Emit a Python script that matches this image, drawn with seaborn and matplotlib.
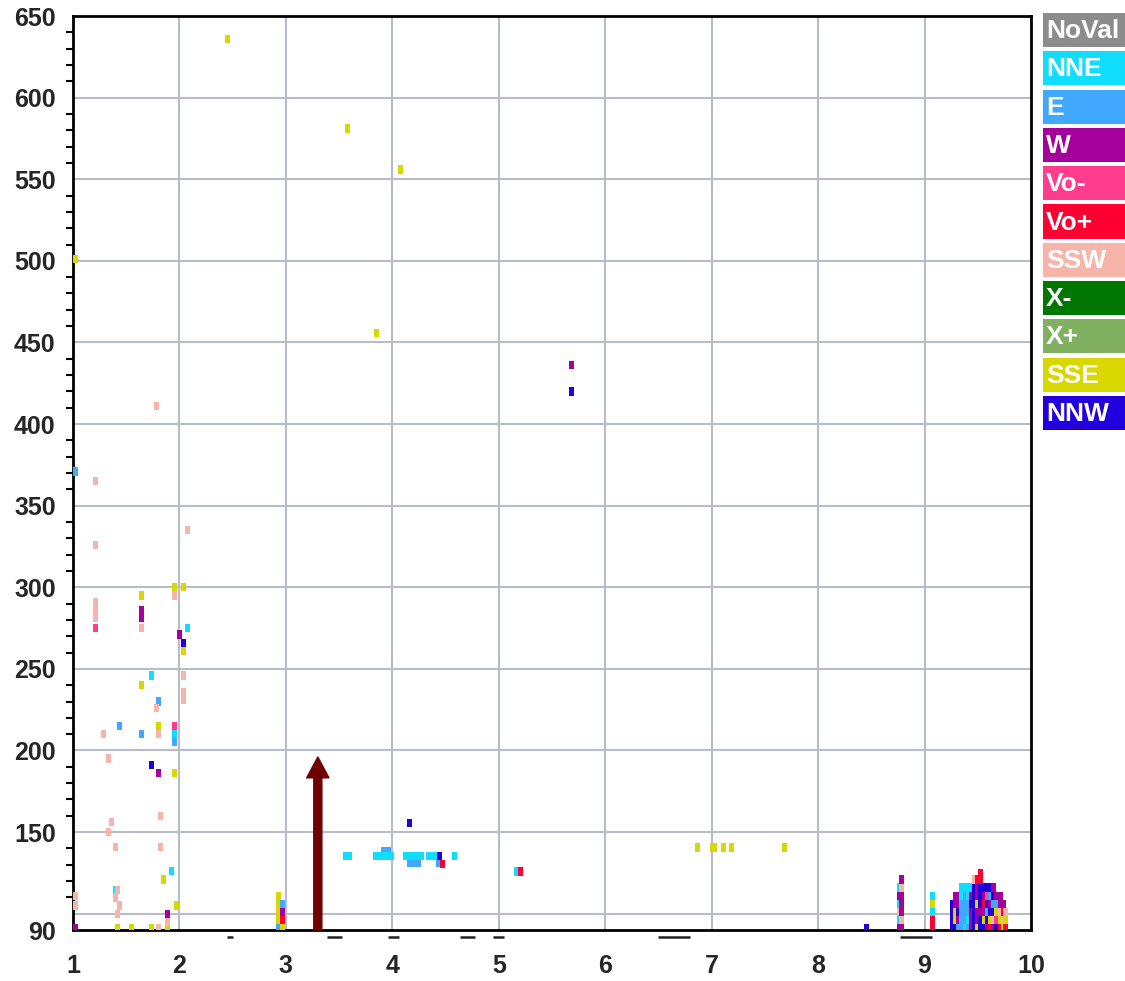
import numpy as np
import pandas as pd
import matplotlib
matplotlib.use("Agg")
import matplotlib.pyplot as plt
from matplotlib.patches import Rectangle
from matplotlib.ticker import FixedLocator, MultipleLocator
import seaborn as sns

# ---------------- data ----------------
categories = ["NoVal", "NNE", "E", "W", "Vo-", "Vo+", "SSW", "X-", "X+", "SSE", "NNW"]
cat_colors = ["#8c8c8c", "#11ddff", "#40a8ff", "#a6009c", "#ff3d8c", "#ff0033",
              "#f7b5aa", "#007700", "#80b060", "#d8d800", "#2200dd"]

# isolated marks, per category
E_x = [1.02, 1.80, 1.44, 1.645, 1.95, 3.92, 3.96, 4.16, 4.21, 4.25, 4.43]
E_y = [371, 230, 215, 210, 205.5, 138.5, 138.5, 131, 131, 131, 131]

NNE_x = [2.08, 1.74, 1.95, 1.93, 1.395, 3.56, 3.60, 3.84, 3.87, 3.90, 3.93, 3.96, 3.99,
         4.12, 4.15, 4.18, 4.21, 4.24, 4.27, 4.34, 4.37, 4.40, 4.58, 5.17]
NNE_y = [275, 246, 210, 126, 114.5, 135.4, 135.4, 135.4, 135.4, 135.4, 135.4, 135.4, 135.4,
         135.4, 135.4, 135.4, 135.4, 135.4, 135.4, 135.4, 135.4, 135.4, 135.4, 125.8]

SSE_x = [2.45, 3.58, 4.08, 1.02, 3.85, 1.95, 2.04, 1.645, 2.04, 1.645, 1.80, 1.95,
         1.85, 1.97, 1.42, 1.55, 1.74, 1.89, 6.87, 7.01, 7.03, 7.11, 7.19, 7.68]
SSE_y = [636, 581, 556, 501, 455.6, 300, 300, 295, 261, 240, 215, 186,
         121, 105, 91, 91, 91, 91, 140.5, 140.5, 140.5, 140.5, 140.5, 140.5]

SSW_x = [1.78, 1.21, 2.08, 1.21, 1.95, 1.21, 1.21, 1.21, 1.645, 2.04, 2.04, 2.04, 1.78,
         1.80, 1.29, 1.33, 1.82, 1.36, 1.33, 1.40, 1.82, 1.42, 1.40, 1.02, 1.02, 1.44,
         1.42, 1.89, 1.80]
SSW_y = [411, 365, 335, 326, 295, 291, 286, 281, 275, 246, 236, 231, 226,
         210, 210, 195, 160, 156, 150, 141, 141, 114.5, 110, 111, 105, 105,
         100, 95, 91]

W_x = [1.645, 1.645, 2.0, 1.80, 1.89, 1.02, 5.68]
W_y = [286, 281, 271, 186, 100, 91, 436]

Vo_minus_x = [1.21, 1.95]
Vo_minus_y = [275, 215]

Vo_plus_x = [4.47, 5.20, 9.525]
Vo_plus_y = [130.5, 125.8, 125]

NNW_x = [5.68, 2.04, 1.74, 4.16, 4.44, 8.45]
NNW_y = [420, 266, 191, 155.5, 135.4, 91]

# stacked columns (categories listed bottom -> top)
stack_levels = [91, 96, 101, 106, 111, 116, 121]
stack_x = [2.935, 2.965, 8.76, 8.785, 9.07,
           9.26, 9.29, 9.32, 9.35, 9.38, 9.41, 9.44, 9.47, 9.50, 9.53,
           9.56, 9.59, 9.62, 9.65, 9.68, 9.71, 9.74, 9.765]
stack_cats = [
    ["E", "SSE", "SSE", "SSE", "SSE"],
    ["SSE", "Vo+", "W", "E"],
    ["W", "NNE", "SSW", "NNE", "W", "NNE"],
    ["W", "SSW", "W", "W", "W", "SSW", "W"],
    ["Vo+", "Vo+", "NNE", "SSE", "NNE"],
    ["NNW", "NNW", "NNW", "NNW"],
    ["NNW", "SSE", "SSE", "W", "W"],
    ["E", "W", "NNW", "W", "W"],
    ["E", "E", "E", "E", "NNE", "NNE"],
    ["NNE", "E", "E", "E", "E", "NNE"],
    ["E", "NNE", "E", "E", "NNE", "NNE"],
    ["W", "W", "W", "NNW", "W", "NNE"],
    ["NNW", "NNW", "NNW", "NNW", "NNW", "NNW", "SSW"],
    ["SSE", "W", "W", "SSE", "W", "W", "Vo+"],
    ["NNW", "NNW", "W", "NNW", "NNW", "NNW", "Vo+"],
    ["NNW", "SSE", "W", "Vo+", "W", "NNW"],
    ["W", "NNW", "E", "NNW", "Vo-", "NNW"],
    ["Vo+", "SSE", "NNW", "W", "E", "NNW"],
    ["W", "SSW", "NNW", "E", "NNW", "W"],
    ["NNW", "Vo-", "SSE", "E", "W"],
    ["Vo+", "SSE", "SSW", "W", "W"],
    ["SSE", "SSW", "Vo+", "W"],
    ["Vo+", "SSE", "SSW"],
]

# short dark dashes just below the x axis
dash_x0 = [2.45, 3.39, 3.96, 4.64, 4.95, 6.50, 8.77]
dash_x1 = [2.50, 3.53, 4.06, 4.78, 5.05, 6.80, 9.07]
dash_y = 85.7

# arrow
arrow_x = 3.30
arrow_y0, arrow_y1 = 90, 196

# axes
x_ticks = [1, 2, 3, 4, 5, 6, 7, 8, 9, 10]
y_ticks = [90, 100, 150, 200, 250, 300, 350, 400, 450, 500, 550, 600, 650]
y_ticklabels = ["90", "", "150", "200", "250", "300", "350", "400", "450", "500", "550", "600", "650"]
x_grid = [2, 3, 4, 5, 6, 7, 8, 9]
y_grid = [100, 150, 200, 250, 300, 350, 400, 450, 500, 550, 600]

# ---------------- build table ----------------
rows = []
def add(xs, ys, cat):
    for x, y in zip(xs, ys):
        rows.append((x, y, cat))

add(E_x, E_y, "E")
add(NNE_x, NNE_y, "NNE")
add(SSE_x, SSE_y, "SSE")
add(SSW_x, SSW_y, "SSW")
add(W_x, W_y, "W")
add(Vo_minus_x, Vo_minus_y, "Vo-")
add(Vo_plus_x, Vo_plus_y, "Vo+")
add(NNW_x, NNW_y, "NNW")
for x, cats in zip(stack_x, stack_cats):
    for lvl, c in zip(stack_levels, cats):
        rows.append((x, lvl, c))

df = pd.DataFrame(rows, columns=["x", "y", "cat"])
palette = dict(zip(categories, cat_colors))

# ---------------- draw ----------------
sns.set_style("white")
plt.rcParams["font.family"] = ["Liberation Sans", "DejaVu Sans"]

fig = plt.figure(figsize=(11.25, 9.81), dpi=100)
ax = fig.add_axes([73 / 1125, 1 - 930 / 981, (1031 - 73) / 1125, (930 - 16) / 981])

grid_color = "#b8bcc8"
for gx in x_grid:
    ax.axvline(gx, color=grid_color, lw=1.5, zorder=0)
for gy in y_grid:
    ax.axhline(gy, color=grid_color, lw=1.5, zorder=0)

rect_marker = [(-0.3, -0.5), (0.3, -0.5), (0.3, 0.5), (-0.3, 0.5), (-0.3, -0.5)]
sns.scatterplot(data=df, x="x", y="y", hue="cat", palette=palette, marker=rect_marker,
                s=36, linewidth=0, legend=False, ax=ax, zorder=3)

ax.annotate("", xy=(arrow_x, arrow_y1), xytext=(arrow_x, arrow_y0),
            arrowprops=dict(facecolor="#700000", edgecolor="#700000", width=5.8,
                            headwidth=16, headlength=15, shrink=0.0),
            zorder=4)

ax.hlines([dash_y] * len(dash_x0), dash_x0, dash_x1, colors="#222222", lw=1.8, clip_on=False, zorder=5)

ax.set_xlim(1, 10)
ax.set_ylim(90, 650)
ax.set_xlabel("")
ax.set_ylabel("")
ax.xaxis.set_major_locator(FixedLocator(x_ticks))
ax.set_xticklabels([str(v) for v in x_ticks])
ax.yaxis.set_major_locator(FixedLocator(y_ticks))
ax.set_yticklabels(y_ticklabels)
ax.yaxis.set_minor_locator(MultipleLocator(10))

for s in ax.spines.values():
    s.set_visible(True)
    s.set_color("black")
    s.set_linewidth(2)

ax.tick_params(axis="x", which="major", direction="out", length=8, width=1.5, color="black",
               pad=9, labelsize=18)
ax.tick_params(axis="y", which="major", direction="out", length=9.5, width=1.5, color="black",
               pad=3, labelsize=18)
ax.tick_params(axis="y", which="minor", direction="out", length=5, width=1.5, color="black", left=True)
for lab in ax.get_xticklabels() + ax.get_yticklabels():
    lab.set_fontweight("bold")

# legend boxes at the right edge
box_x0 = 1043 / 1125
box_w = (1125 - 1043) / 1125
for i, (lab, col) in enumerate(zip(categories, cat_colors)):
    top_px = 13 + 38.3 * i
    h_px = 34
    fig.add_artist(Rectangle((box_x0, 1 - (top_px + h_px) / 981), box_w, h_px / 981,
                             transform=fig.transFigure, facecolor=col, edgecolor="none"))
    fig.text(1046 / 1125, 1 - (top_px + h_px / 2 + 1) / 981, lab, color="white",
             fontsize=19, fontweight="bold", ha="left", va="center")

fig.savefig("out.png", dpi=100)
